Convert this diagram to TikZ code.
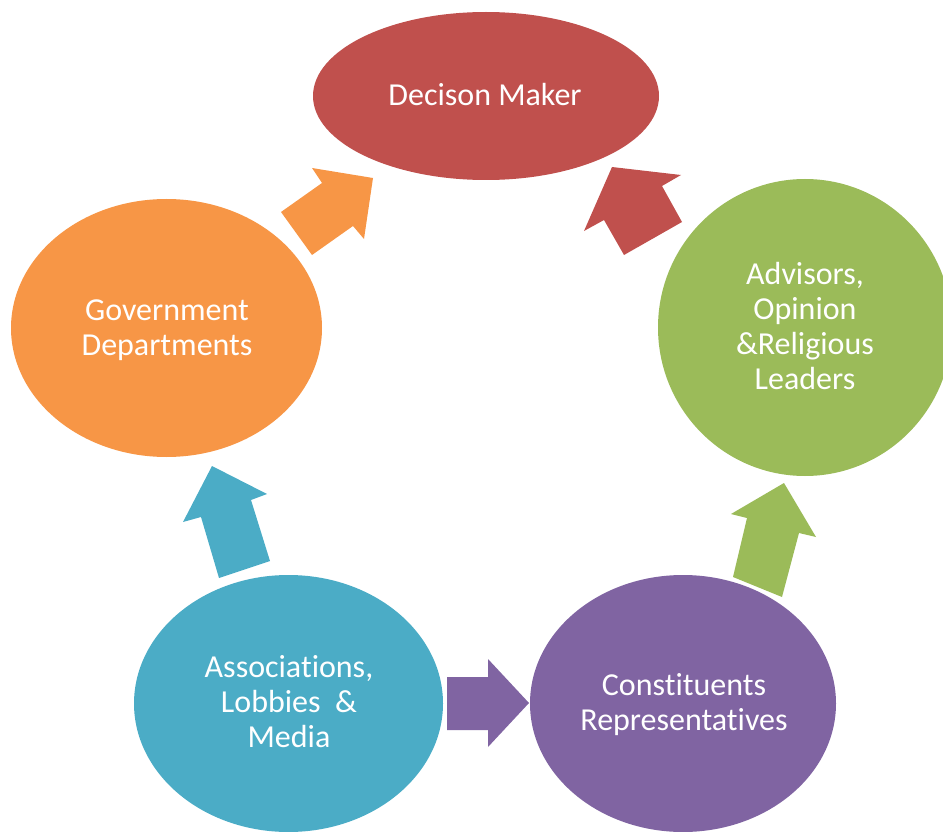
\documentclass[tikz,border=0pt]{standalone}
\usepackage{fontspec}
\setmainfont[Ligatures={NoCommon}]{Carlito}
\usetikzlibrary{shapes.geometric}
\definecolor{cred}{HTML}{C0504D}
\definecolor{corange}{HTML}{F79646}
\definecolor{cgreen}{HTML}{9BBB59}
\definecolor{cblue}{HTML}{4BACC6}
\definecolor{cpurple}{HTML}{8064A2}
\tikzset{
  blob/.style={ellipse, draw=none, inner sep=0pt},
  lbl/.style={text=white, align=center, inner sep=0pt, font=\fontsize{32}{35}\selectfont},
}
\begin{document}
\begin{tikzpicture}[x=1pt,y=-1pt]
\useasboundingbox (0,0) rectangle (943,832);
% ellipses
\node[blob, fill=cred, minimum width=346pt, minimum height=168pt] (dm) at (486,96) {};
\node[blob, fill=corange, minimum width=311pt, minimum height=258pt] (gd) at (166.5,328) {};
\node[blob, fill=cgreen, minimum width=294pt, minimum height=297pt] (ad) at (805,327.5) {};
\node[blob, fill=cblue, minimum width=309pt, minimum height=257pt] (as) at (288.5,703.5) {};
\node[blob, fill=cpurple, minimum width=306pt, minimum height=257pt] (cr) at (683,703.5) {};
% labels
\node[lbl] (dmT) at (485,94.5) {Decison Maker};
\node[lbl] (gdT) at (167,330) {Government\\Departments};
\node[lbl] (adT) at (805,326.5) {Advisors,\\Opinion\\\&Religious\\Leaders};
\node[lbl] (asT) at (289,702) {Associations,\\Lobbies~ \&\\Media};
\node[lbl] (crT) at (684,705) {Constituents\\Representatives};
% block arrows
\fill[corange] (373,178) -- (312,168) -- (322,183) -- (281,212) -- (312,255) -- (353,226) -- (364,239) -- cycle;
\fill[cred] (612,167) -- (681,175) -- (662,186) -- (682,222) -- (624,255) -- (604,220) -- (584,231) -- cycle;
\fill[cgreen] (784,483) -- (816,537) -- (799,533) -- (782,597) -- (733,577) -- (747,518) -- (731,514) -- cycle;
\fill[cblue] (212,466) -- (267,494) -- (251,500) -- (270,561) -- (219,578) -- (201,517) -- (183,522) -- cycle;
\fill[cpurple] (447,677) -- (488,677) -- (488,659) -- (529,703) -- (488,747) -- (488,730) -- (447,730) -- cycle;
\end{tikzpicture}
\end{document}
